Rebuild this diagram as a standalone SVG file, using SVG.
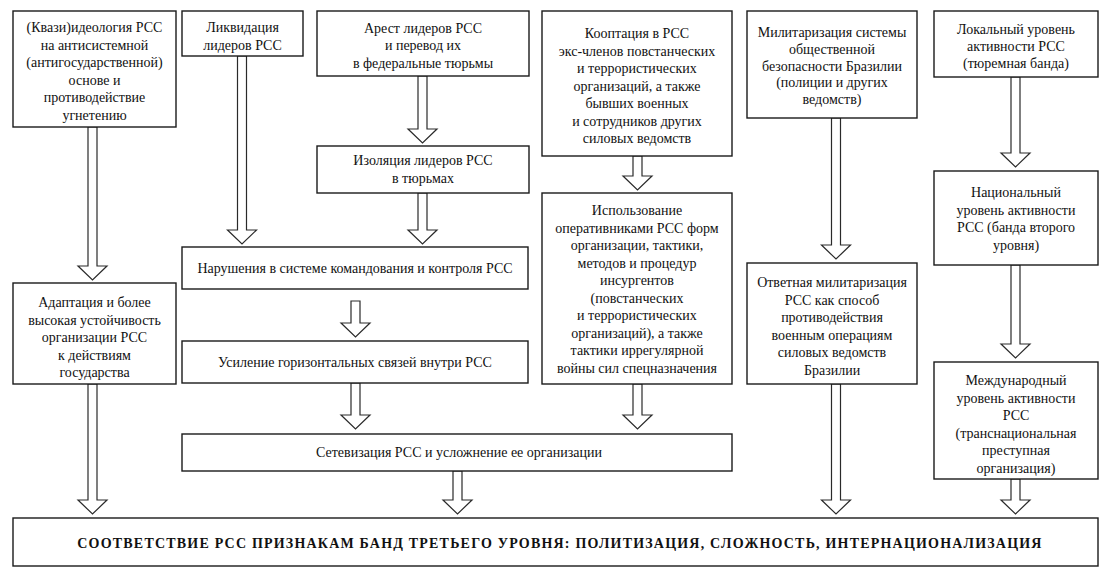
<svg xmlns="http://www.w3.org/2000/svg" width="1103" height="574" viewBox="0 0 1103 574">
<style>
.b{fill:#fff;stroke:#1a1a1a;stroke-width:1.4}
.t{font-family:'Liberation Serif','DejaVu Serif',serif;font-size:14px;fill:#111;text-anchor:middle}
.bold{font-weight:bold;font-size:14px;letter-spacing:1.2px}
.a{fill:#fff;stroke:#2a2a2a;stroke-width:1.2;stroke-linejoin:miter}
</style>
<rect width="1103" height="574" fill="#fff"/>
<g id="connectors">
<path class="a" d="M88,127V266H78L92.5,280L107,266H97V127Z"/>
<path class="a" d="M237.5,56V230H227.5L242,244L256.5,230H246.5V56Z"/>
<path class="a" d="M418,76V129H408L422.5,143L437,129H427V76Z"/>
<path class="a" d="M418,193V230H408L422.5,244L437,230H427V193Z"/>
<path class="a" d="M351,301V323H341L355.5,337L370,323H360V301Z"/>
<path class="a" d="M351,383V415H341L355.5,429L370,415H360V383Z"/>
<path class="a" d="M633,156V176H623L637.5,190L652,176H642V156Z"/>
<path class="a" d="M633,384V415H623L637.5,429L652,415H642V384Z"/>
<path class="a" d="M831.5,118V245H821.5L836,259L850.5,245H840.5V118Z"/>
<path class="a" d="M831.5,384V500H821.5L836,514L850.5,500H840.5V384Z"/>
<path class="a" d="M1011,77V153H1001L1015.5,167L1030,153H1020V77Z"/>
<path class="a" d="M1011,265V344H1001L1015.5,358L1030,344H1020V265Z"/>
<path class="a" d="M1011,479V500H1001L1015.5,514L1030,500H1020V479Z"/>
<path class="a" d="M88,384V500H78L92.5,514L107,500H97V384Z"/>
<path class="a" d="M453,471V500H443L457.5,514L472,500H462V471Z"/>
</g>
<g font-family="Liberation Serif, DejaVu Serif, serif">
<g id="n1"><rect class="b" x="13" y="11" width="163" height="116"/>
<text class="t" x="94.5" y="32"><tspan x="94.5">(Квази)идеология РСС</tspan><tspan x="94.5" dy="17.5">на антисистемной</tspan><tspan x="94.5" dy="17.5">(антигосударственной)</tspan><tspan x="94.5" dy="17.5">основе и</tspan><tspan x="94.5" dy="17.5">противодействие</tspan><tspan x="94.5" dy="17.5">угнетению</tspan></text></g>
<g id="n2"><rect class="b" x="182" y="11" width="121" height="45"/>
<text class="t" x="242.5" y="32"><tspan x="242.5">Ликвидация</tspan><tspan x="242.5" dy="17.5">лидеров РСС</tspan></text></g>
<g id="n3"><rect class="b" x="317" y="11" width="212" height="65"/>
<text class="t" x="423" y="32.5"><tspan x="423">Арест лидеров РСС</tspan><tspan x="423" dy="17.5">и перевод их</tspan><tspan x="423" dy="17.5">в федеральные тюрьмы</tspan></text></g>
<g id="n4"><rect class="b" x="317" y="146" width="212" height="47"/>
<text class="t" x="423" y="165"><tspan x="423">Изоляция лидеров РСС</tspan><tspan x="423" dy="17.5">в тюрьмах</tspan></text></g>
<g id="n5"><rect class="b" x="542" y="11" width="190" height="145"/>
<text class="t" x="637" y="38"><tspan x="637">Кооптация в РСС</tspan><tspan x="637" dy="17.5">экс-членов повстанческих</tspan><tspan x="637" dy="17.5">и террористических</tspan><tspan x="637" dy="17.5">организаций, а также</tspan><tspan x="637" dy="17.5">бывших военных</tspan><tspan x="637" dy="17.5">и сотрудников других</tspan><tspan x="637" dy="17.5">силовых ведомств</tspan></text></g>
<g id="n6"><rect class="b" x="747" y="11" width="170" height="107"/>
<text class="t" x="832" y="37"><tspan x="832">Милитаризация системы</tspan><tspan x="832" dy="16.8">общественной</tspan><tspan x="832" dy="16.8">безопасности Бразилии</tspan><tspan x="832" dy="16.8">(полиции и других</tspan><tspan x="832" dy="16.8">ведомств)</tspan></text></g>
<g id="n7"><rect class="b" x="934" y="11" width="164" height="66"/>
<text class="t" x="1016" y="34"><tspan x="1016">Локальный уровень</tspan><tspan x="1016" dy="17">активности РСС</tspan><tspan x="1016" dy="17">(тюремная банда)</tspan></text></g>
<g id="n8"><rect class="b" x="934" y="171" width="164" height="94"/>
<text class="t" x="1016" y="197"><tspan x="1016">Национальный</tspan><tspan x="1016" dy="17.5">уровень активности</tspan><tspan x="1016" dy="17.5">РСС (банда второго</tspan><tspan x="1016" dy="17.5">уровня)</tspan></text></g>
<g id="n9"><rect class="b" x="182" y="247" width="346" height="42"/>
<text class="t" x="355" y="273">Нарушения в системе командования и контроля РСС</text></g>
<g id="n10"><rect class="b" x="13" y="283" width="163" height="101"/>
<text class="t" x="94.5" y="307"><tspan x="94.5">Адаптация и более</tspan><tspan x="94.5" dy="17.5">высокая устойчивость</tspan><tspan x="94.5" dy="17.5">организации РСС</tspan><tspan x="94.5" dy="17.5">к действиям</tspan><tspan x="94.5" dy="17.5">государства</tspan></text></g>
<g id="n11"><rect class="b" x="542" y="193" width="190" height="191"/>
<text class="t" x="637" y="215"><tspan x="637">Использование</tspan><tspan x="637" dy="17.5">оперативниками РСС форм</tspan><tspan x="637" dy="17.5">организации, тактики,</tspan><tspan x="637" dy="17.5">методов и процедур</tspan><tspan x="637" dy="17.5">инсургентов</tspan><tspan x="637" dy="17.5">(повстанческих</tspan><tspan x="637" dy="17.5">и террористических</tspan><tspan x="637" dy="17.5">организаций), а также</tspan><tspan x="637" dy="17.5">тактики иррегулярной</tspan><tspan x="637" dy="17.5">войны сил спецназначения</tspan></text></g>
<g id="n12"><rect class="b" x="747" y="263" width="170" height="121"/>
<text class="t" x="832" y="287"><tspan x="832">Ответная милитаризация</tspan><tspan x="832" dy="17.5">РСС как способ</tspan><tspan x="832" dy="17.5">противодействия</tspan><tspan x="832" dy="17.5">военным операциям</tspan><tspan x="832" dy="17.5">силовых ведомств</tspan><tspan x="832" dy="17.5">Бразилии</tspan></text></g>
<g id="n13"><rect class="b" x="182" y="341" width="346" height="42"/>
<text class="t" x="355" y="367">Усиление горизонтальных связей внутри РСС</text></g>
<g id="n14"><rect class="b" x="934" y="362" width="164" height="117"/>
<text class="t" x="1016" y="385"><tspan x="1016">Международный</tspan><tspan x="1016" dy="17.5">уровень активности</tspan><tspan x="1016" dy="17.5">РСС</tspan><tspan x="1016" dy="17.5">(транснациональная</tspan><tspan x="1016" dy="17.5">преступная</tspan><tspan x="1016" dy="17.5">организация)</tspan></text></g>
<g id="n15"><rect class="b" x="182" y="434" width="550" height="37"/>
<text class="t" x="459" y="457">Сетевизация РСС и усложнение ее организации</text></g>
<g id="n16"><rect class="b" x="13" y="518" width="1085" height="48"/>
<text class="t bold" x="560" y="548">СООТВЕТСТВИЕ РСС ПРИЗНАКАМ БАНД ТРЕТЬЕГО УРОВНЯ: ПОЛИТИЗАЦИЯ, СЛОЖНОСТЬ, ИНТЕРНАЦИОНАЛИЗАЦИЯ</text></g>
</g>
</svg>
